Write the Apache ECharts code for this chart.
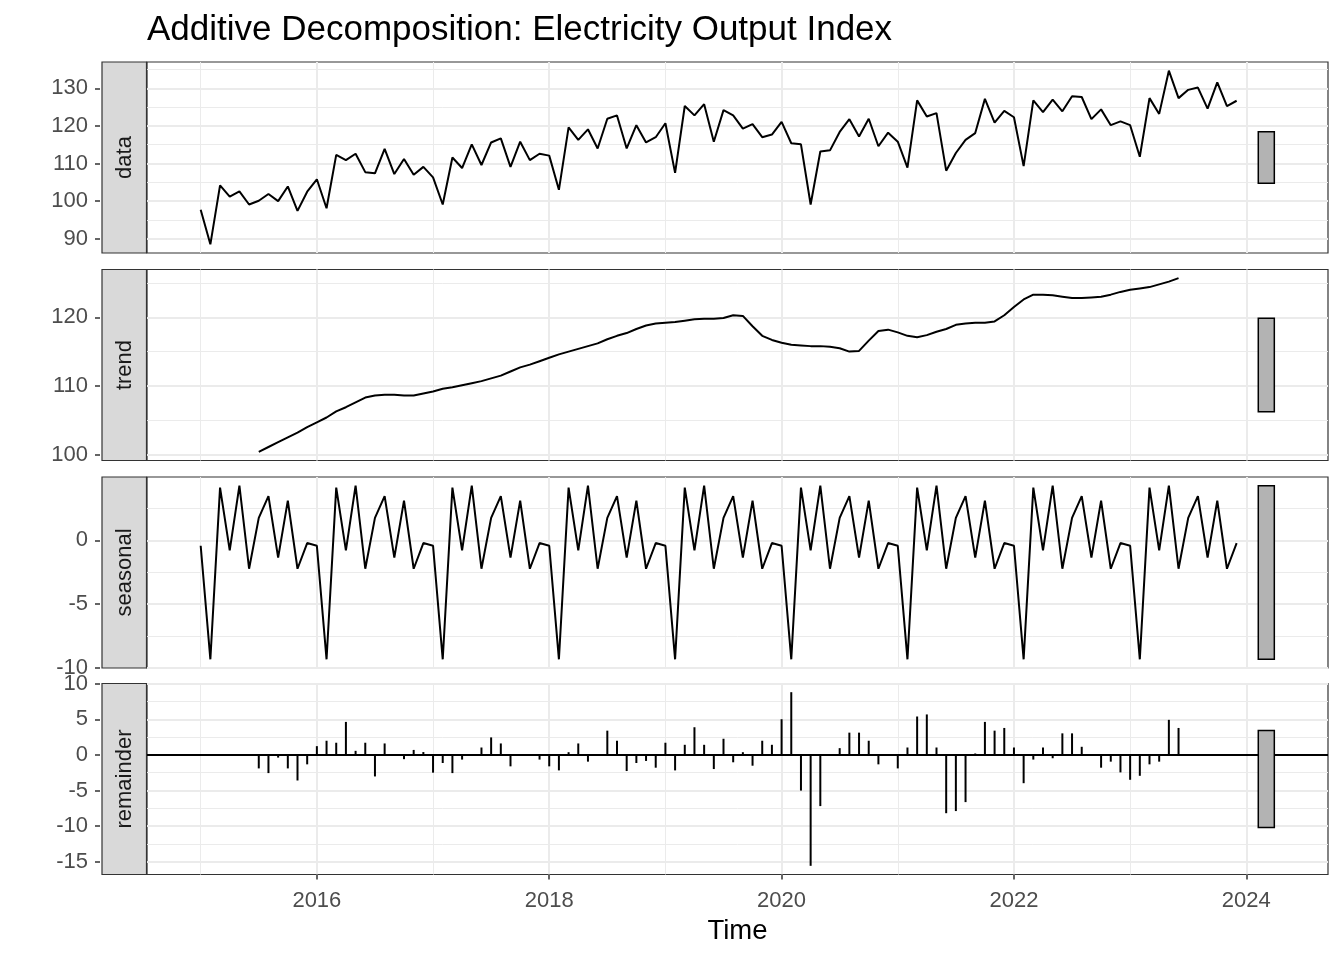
<!DOCTYPE html>
<html>
<head>
<meta charset="utf-8">
<script src="https://cdn.jsdelivr.net/npm/echarts@6/dist/echarts.min.js"></script>
<style>
html,body{margin:0;padding:0;background:#ffffff;}
#chart{width:1344px;height:960px;}
</style>
</head>
<body>
<div id="chart"></div>
<script>
// ---- time series definition (monthly, starting Jan 2015) ----
const startYear = 2015;
const frequency = 12;

// ---- observed data ----
const dataValues = [
  97.7, 88.5, 104.2, 101.2, 102.6, 99.1, 100.1, 101.9, 100.0, 103.9, 97.4, 102.5,
  105.8, 98.1, 112.3, 110.9, 112.6, 107.7, 107.4, 113.9, 107.2, 111.2, 107.0, 109.1,
  106.3, 99.1, 111.6, 108.8, 115.1, 109.6, 115.6, 116.7, 109.1, 115.8, 110.9, 112.6,
  112.1, 103.0, 119.6, 116.3, 119.1, 114.0, 121.9, 122.8, 114.0, 120.2, 115.6, 117.0,
  120.7, 107.5, 125.3, 122.8, 125.8, 115.8, 124.2, 122.8, 119.3, 120.5, 117.0, 117.7,
  121.1, 115.4, 115.1, 99.1, 113.2, 113.5, 118.4, 121.8, 117.2, 121.9, 114.6, 118.2,
  115.8, 108.9, 126.8, 122.5, 123.4, 108.1, 112.8, 116.3, 118.1, 127.2, 120.9, 124.0,
  122.3, 109.3, 126.8, 123.7, 127.0, 123.9, 127.9, 127.7, 121.8, 124.4, 120.2, 121.2,
  120.2, 111.8, 127.4, 123.2, 134.7, 127.4, 129.6, 130.2, 124.6, 131.6, 125.3, 126.7
];

// ---- trend (starts Jul 2015, month index 6) ----
const trendStart = 6;
const trendValues = [
  100.4, 101.1, 101.8, 102.5, 103.2, 104.0,
  104.7, 105.4, 106.3, 106.9, 107.6, 108.3, 108.6, 108.7, 108.7, 108.6, 108.6, 108.9,
  109.2, 109.6, 109.8, 110.1, 110.4, 110.7, 111.1, 111.5, 112.1, 112.7, 113.1, 113.6,
  114.1, 114.6, 115.0, 115.4, 115.8, 116.2, 116.8, 117.3, 117.7, 118.3, 118.8, 119.1,
  119.2, 119.3, 119.5, 119.7, 119.8, 119.8, 119.9, 120.3, 120.2, 118.7, 117.3, 116.7,
  116.3, 116.0, 115.9, 115.8, 115.8, 115.7, 115.5, 115.0, 115.1, 116.6, 118.0, 118.2,
  117.8, 117.3, 117.1, 117.4, 117.9, 118.3, 118.9, 119.1, 119.2, 119.2, 119.4, 120.3,
  121.5, 122.6, 123.3, 123.3, 123.2, 123.0, 122.8, 122.8, 122.9, 123.0, 123.3, 123.7,
  124.0, 124.2, 124.4, 124.8, 125.2, 125.7
];

// ---- seasonal component (starts Jan 2015) ----
const seasonalValues = [
  -0.42, -9.35, 4.15, -0.78, 4.30, -2.23, 1.77, 3.48, -1.35, 3.12, -2.23, -0.21,
  -0.42, -9.35, 4.15, -0.78, 4.30, -2.23, 1.77, 3.48, -1.35, 3.12, -2.23, -0.21,
  -0.42, -9.35, 4.15, -0.78, 4.30, -2.23, 1.77, 3.48, -1.35, 3.12, -2.23, -0.21,
  -0.42, -9.35, 4.15, -0.78, 4.30, -2.23, 1.77, 3.48, -1.35, 3.12, -2.23, -0.21,
  -0.42, -9.35, 4.15, -0.78, 4.30, -2.23, 1.77, 3.48, -1.35, 3.12, -2.23, -0.21,
  -0.42, -9.35, 4.15, -0.78, 4.30, -2.23, 1.77, 3.48, -1.35, 3.12, -2.23, -0.21,
  -0.42, -9.35, 4.15, -0.78, 4.30, -2.23, 1.77, 3.48, -1.35, 3.12, -2.23, -0.21,
  -0.42, -9.35, 4.15, -0.78, 4.30, -2.23, 1.77, 3.48, -1.35, 3.12, -2.23, -0.21,
  -0.42, -9.35, 4.15, -0.78, 4.30, -2.23, 1.77, 3.48, -1.35, 3.12, -2.23, -0.21
];

// ---- remainder (starts Jul 2015, month index 6) ----
const remainderStart = 6;
const remainderValues = [
  -1.9, -2.56, -0.38, -1.9, -3.6, -1.33,
  1.23, 1.99, 1.71, 4.64, 0.57, 1.71, -3.03, 1.61, -0.15, -0.6, 0.7, 0.4,
  -2.5, -1.14, -2.56, -0.66, 0.1, 1.04, 2.46, 1.61, -1.61, 0.05, 0.03, -0.66,
  -1.61, -2.18, 0.38, 1.61, -0.95, 0.1, 3.41, 1.99, -2.27, -1.14, -0.85, -1.8,
  1.71, -2.18, 1.42, 3.89, 1.42, -1.99, 2.27, -1.04, 0.38, -1.52, 1.99, 1.42,
  5.02, 8.82, -5.02, -15.6, -7.2, 0.03, 0.95, 3.13, 3.13, 1.99, -1.33, 0.1,
  -1.9, 1.04, 5.4, 5.69, 1.04, -8.2, -7.9, -6.64, 0.2, 4.64, 3.41, 3.79,
  1.04, -3.98, -0.66, 1.04, -0.47, 3.03, 3.03, 1.14, 0.1, -1.8, -0.95, -2.46,
  -3.5, -2.94, -1.33, -0.95, 4.93, 3.79
];

// ---- tick labels / breaks ----
const xTickLabels = [2016, 2018, 2020, 2022, 2024];
const xMinorBreaks = [2015, 2017, 2019, 2021, 2023];
const dataTicks = [90, 100, 110, 120, 130];
const dataMinor = [95, 105, 115, 125, 135];
const trendTicks = [100, 110, 120];
const trendMinor = [105, 115, 125];
const seasonalTicks = [-10, -5, 0];
const seasonalMinor = [-7.5, -2.5, 2.5];
const remainderTicks = [-15, -10, -5, 0, 5, 10];
const remainderMinor = [-12.5, -7.5, -2.5, 2.5, 7.5];
const panelNames = ['data', 'trend', 'seasonal', 'remainder'];

// ---- build pairs through time index ----
const timeOf = i => startYear + i / frequency;
const dataPairs = dataValues.map((v, i) => [timeOf(i), v]);
const trendPairs = trendValues.map((v, k) => [timeOf(trendStart + k), v]);
const seasonalPairs = seasonalValues.map((v, i) => [timeOf(i), v]);
const remainderPairs = remainderValues.map((v, k) => [timeOf(remainderStart + k), v]);

// ---- layout constants ----
const FONT = '"Liberation Sans", Arial, Helvetica, sans-serif';
const gridTops = [62, 269.5, 477, 683.5];
const gridH = 191;
const gridLeft = 147;
const gridRight = 16;
const barLeft = 2024.103, barRight = 2024.241;

const ext = a => [Math.min.apply(null, a), Math.max.apply(null, a)];
const expand = e => { const r = e[1] - e[0]; return [e[0] - 0.05 * r, e[1] + 0.05 * r]; };
const xRange = expand([startYear, barRight]);

const comps = [dataValues, trendValues, seasonalValues, remainderValues];
const extents = comps.map(ext);
const yRanges = extents.map(expand);
const barLen = extents[2][1] - extents[2][0]; // range bar length = seasonal range
const rangeBars = extents.map(e => {
  const c = (e[0] + e[1]) / 2;
  return [barLeft, barRight, c - barLen / 2, c + barLen / 2];
});
const majorY = [dataTicks, trendTicks, seasonalTicks, remainderTicks];
const minorY = [dataMinor, trendMinor, seasonalMinor, remainderMinor];
const plain = v => String(v);

const grids = [], xAxes = [], yAxes = [], series = [], graphics = [];
for (let g = 0; g < 4; g++) {
  grids.push({left: gridLeft, right: gridRight, top: gridTops[g], height: gridH,
    show: true, borderColor: '#333333', borderWidth: 1.2, backgroundColor: '#ffffff'});
  // major x
  xAxes.push({
    gridIndex: g, type: 'value', min: xRange[0], max: xRange[1], position: 'bottom',
    axisLine: {show: false, onZero: false},
    axisTick: {show: g === 3, customValues: xTickLabels, length: 5, lineStyle: {color: '#333333', width: 1.5}},
    axisLabel: {show: g === 3, customValues: xTickLabels, formatter: plain, color: '#4D4D4D', fontSize: 22, fontFamily: FONT, margin: 15},
    splitLine: {show: true, lineStyle: {color: '#EBEBEB', width: 2}},
    name: g === 3 ? 'Time' : '', nameLocation: 'middle', nameGap: 43,
    nameTextStyle: {color: '#000000', fontSize: 27.5, fontFamily: FONT}
  });
  // minor x
  xAxes.push({
    gridIndex: g, type: 'value', min: xRange[0], max: xRange[1], position: 'top',
    axisLine: {show: false, onZero: false},
    axisTick: {show: false, customValues: xMinorBreaks},
    axisLabel: {show: false, customValues: xMinorBreaks},
    splitLine: {show: true, lineStyle: {color: '#EBEBEB', width: 1}}
  });
  // major y
  yAxes.push({
    gridIndex: g, type: 'value', min: yRanges[g][0], max: yRanges[g][1], position: 'left', offset: 47,
    axisLine: {show: false, onZero: false},
    axisTick: {show: true, customValues: majorY[g], length: 5, lineStyle: {color: '#333333', width: 1.5}},
    axisLabel: {show: true, customValues: majorY[g], formatter: plain, color: '#4D4D4D', fontSize: 22, fontFamily: FONT, margin: 12},
    splitLine: {show: true, lineStyle: {color: '#EBEBEB', width: 2}}
  });
  // minor y
  yAxes.push({
    gridIndex: g, type: 'value', min: yRanges[g][0], max: yRanges[g][1], position: 'right',
    axisLine: {show: false, onZero: false},
    axisTick: {show: false, customValues: minorY[g]},
    axisLabel: {show: false, customValues: minorY[g]},
    splitLine: {show: true, lineStyle: {color: '#EBEBEB', width: 1}}
  });
  // strip
  graphics.push({
    type: 'rect', shape: {x: 102, y: gridTops[g], width: 44.5, height: gridH},
    style: {fill: '#D9D9D9', stroke: '#333333', lineWidth: 1.2}, silent: true
  });
  graphics.push({
    type: 'text', x: 124.5, y: gridTops[g] + gridH / 2, rotation: Math.PI / 2,
    style: {text: panelNames[g], fill: '#1A1A1A', font: '22px ' + FONT, align: 'center', verticalAlign: 'middle'},
    silent: true
  });
  // range bar
  series.push({
    type: 'custom', xAxisIndex: 2 * g, yAxisIndex: 2 * g, z: 6, silent: true,
    encode: {x: [0, 1], y: [2, 3]},
    data: [rangeBars[g]],
    renderItem: (params, api) => {
      const p1 = api.coord([api.value(0), api.value(3)]);
      const p2 = api.coord([api.value(1), api.value(2)]);
      return {type: 'rect', shape: {x: p1[0], y: p1[1], width: p2[0] - p1[0], height: p2[1] - p1[1]},
        style: {fill: '#B3B3B3', stroke: '#000000', lineWidth: 1.5}};
    }
  });
}

const lineStyle = {color: '#000000', width: 2};
series.push({type: 'line', xAxisIndex: 0, yAxisIndex: 0, data: dataPairs, showSymbol: false, symbol: 'none', lineStyle, silent: true});
series.push({type: 'line', xAxisIndex: 2, yAxisIndex: 2, data: trendPairs, showSymbol: false, symbol: 'none', lineStyle, silent: true});
series.push({type: 'line', xAxisIndex: 4, yAxisIndex: 4, data: seasonalPairs, showSymbol: false, symbol: 'none', lineStyle, silent: true});
series.push({
  type: 'bar', xAxisIndex: 6, yAxisIndex: 6, data: remainderPairs, barWidth: 2,
  itemStyle: {color: '#000000'}, silent: true,
  markLine: {silent: true, symbol: ['none', 'none'], label: {show: false},
    lineStyle: {color: '#000000', width: 2, type: 'solid'}, data: [{yAxis: 0}]}
});

const chart = echarts.init(document.getElementById('chart'), null, {renderer: 'canvas'});
chart.setOption({
  animation: false,
  backgroundColor: '#ffffff',
  textStyle: {fontFamily: FONT},
  title: {text: 'Additive Decomposition: Electricity Output Index', left: 147, top: 13, padding: 0,
    textStyle: {color: '#000000', fontSize: 35, fontWeight: 'normal', fontFamily: FONT}},
  grid: grids, xAxis: xAxes, yAxis: yAxes, series: series, graphic: graphics
});
</script>
</body>
</html>
